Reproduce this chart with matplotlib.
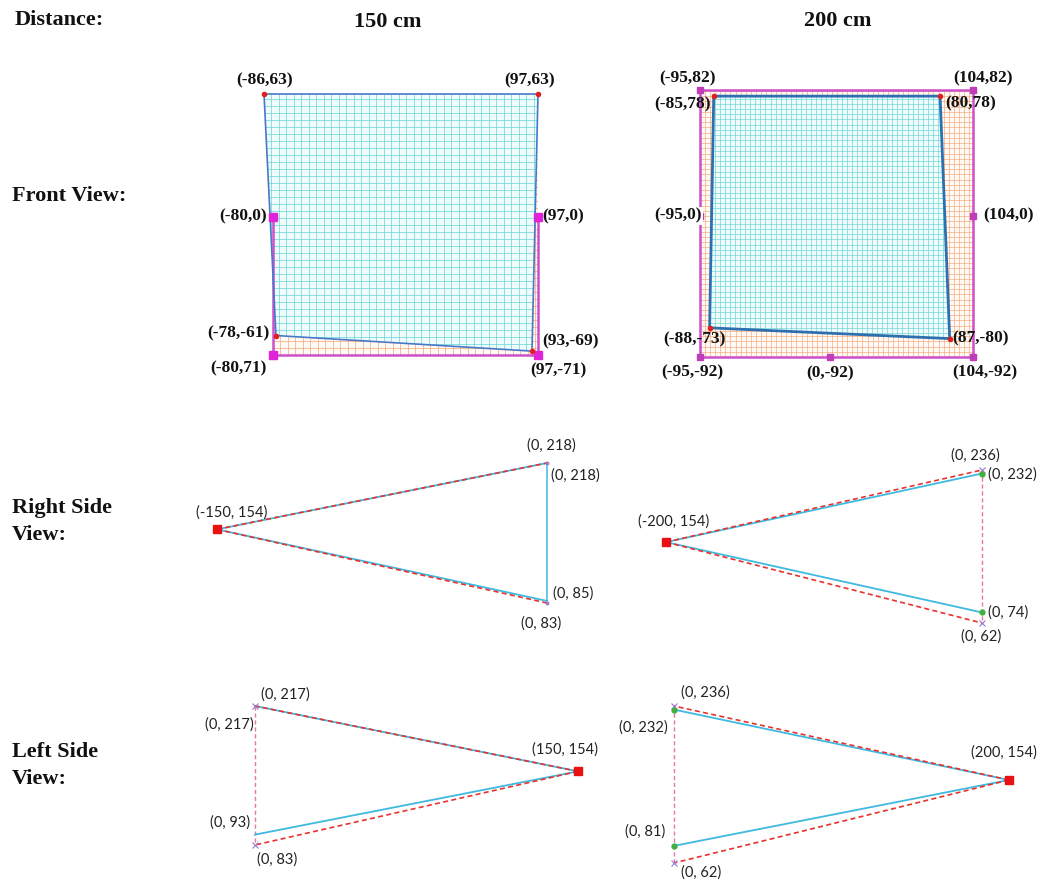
import matplotlib
matplotlib.use('Agg')
import matplotlib.pyplot as plt
from matplotlib.patches import Polygon
import numpy as np

# ---------------- data ----------------
distances = ['150 cm', '200 cm']
row_titles = ['Distance:', 'Front View:', 'Right Side\nView:', 'Left Side\nView:']

# front view, 150 cm : measured quadrilateral and reference frame
f150_quad_x = [-86, 97, 93, -78]
f150_quad_y = [63, 63, -69, -61]
f150_quad_labels = ['(-86,63)', '(97,63)', '(93,-69)', '(-78,-61)']
f150_frame_x = [-80, -80, 97, 97]
f150_frame_y = [0, -71, -71, 0]
f150_frame_labels = ['(-80,0)', '(-80,71)', '(97,-71)', '(97,0)']

# front view, 200 cm
f200_quad_x = [-85, 80, 87, -88]
f200_quad_y = [78, 78, -80, -73]
f200_quad_labels = ['(-85,78)', '(80,78)', '(87,-80)', '(-88,-73)']
f200_frame_x = [-95, 104, 104, 104, 0, -95, -95]
f200_frame_y = [82, 82, 0, -92, -92, -92, 0]
f200_frame_labels = ['(-95,82)', '(104,82)', '(104,0)', '(104,-92)', '(0,-92)', '(-95,-92)', '(-95,0)']

# side views: apex (x, y), theoretical top/bottom y, measured top/bottom y (at x = 0)
r150_apex = (-150, 154); r150_theory = [218, 83]; r150_meas = [218, 85]
r200_apex = (-200, 154); r200_theory = [236, 62]; r200_meas = [232, 74]
l150_apex = (150, 154);  l150_theory = [217, 83]; l150_meas = [217, 93]
l200_apex = (200, 154);  l200_theory = [236, 62]; l200_meas = [232, 81]

# ---------------- style ----------------
W, H = 1042, 883
fig = plt.figure(figsize=(W / 100, H / 100), dpi=100)
SERIF = 'Liberation Serif'
SANS = 'Lato'
CYAN_GRID = '#6fd8d8'
ORANGE_GRID = '#f4ae80'
MAGENTA = '#cf4fc9'
MAG_MARK = '#e022d8'
LINE_CYAN = '#3fb9df'
RED = '#e8322e'
PINK = '#e47a9c'


def place(xlim, px, ylim, py):
    ax = fig.add_axes([px[0] / W, 1 - py[0] / H, (px[1] - px[0]) / W, (py[0] - py[1]) / H])
    ax.set_xlim(*xlim)
    ax.set_ylim(*ylim)
    ax.axis('off')
    return ax


def grid(ax, px, py, dx, dy, color, lw, z, fill):
    poly = Polygon(np.column_stack([px, py]), closed=True, facecolor=fill,
                   edgecolor='none', zorder=z, clip_on=False)
    ax.add_patch(poly)
    x0, x1, y0, y1 = min(px), max(px), min(py), max(py)
    v = ax.vlines(np.arange(x0, x1 + 0.01, dx), y0, y1, colors=color, lw=lw, zorder=z + 0.1)
    h = ax.hlines(np.arange(y0, y1 + 0.01, dy), x0, x1, colors=color, lw=lw, zorder=z + 0.1)
    for c in (v, h):
        c.set_clip_path(poly)


def lab(ax, x, y, text, off, ha='center', family=SERIF, weight='bold', size=12.5,
        color='#111111', box=False):
    kw = {}
    if box:
        kw['bbox'] = dict(boxstyle='square,pad=0.05', fc='white', ec='none')
    ax.annotate(text, (x, y), xytext=off, textcoords='offset pixels', ha=ha, va='center',
                family=family, weight=weight, fontsize=size, color=color,
                annotation_clip=False, zorder=10, **kw)


# ---------------- row / column titles ----------------
tkw = dict(family=SERIF, weight='bold', fontsize=16, color='#111111', va='center')
fig.text(15 / W, 1 - 20 / H, row_titles[0], ha='left', **tkw)
fig.text(388 / W, 1 - 22 / H, distances[0], ha='center', **tkw)
fig.text(838 / W, 1 - 21 / H, distances[1], ha='center', **tkw)
fig.text(12 / W, 1 - 196 / H, row_titles[1], ha='left', **tkw)
for t, y0 in ((row_titles[2], 508), (row_titles[3], 752)):
    l1, l2 = t.split('\n')
    fig.text(12 / W, 1 - y0 / H, l1, ha='left', **tkw)
    fig.text(12 / W, 1 - (y0 + 27) / H, l2, ha='left', **tkw)

# ---------------- front view 150 cm ----------------
ax = place((min(f150_quad_x + f150_frame_x), max(f150_quad_x + f150_frame_x)), (264, 538),
           (min(f150_quad_y + f150_frame_y), max(f150_quad_y + f150_frame_y)), (355, 94))
fx0, fx1 = min(f150_frame_x), max(f150_frame_x)
fy0, fy1 = min(f150_frame_y), max(f150_quad_y)
grid(ax, [fx0, fx1, fx1, fx0], [fy0, fy0, fy1, fy1], 5, 3.6, ORANGE_GRID, 0.55, 1, '#fffaf6')
grid(ax, f150_quad_x, f150_quad_y, 5, 3.6, CYAN_GRID, 0.55, 2, '#f0fcfc')
ax.plot(f150_quad_x + f150_quad_x[:1], f150_quad_y + f150_quad_y[:1], color='#4a78c8',
        lw=1.2, zorder=4, clip_on=False)
ax.plot(f150_frame_x, f150_frame_y, color=MAGENTA, lw=1.8, zorder=3, clip_on=False)
ax.plot(f150_frame_x, f150_frame_y, 's', color=MAG_MARK, ms=6, zorder=5, clip_on=False)
ax.plot(f150_quad_x, f150_quad_y, 'o', color='#e02020', ms=3, zorder=6, clip_on=False)
f150_quad_off = [((1, 14), 'center'), ((-8, 14), 'center'), ((10, 10), 'left'), ((-6, 2), 'right')]
f150_frame_off = [((-6, 0), 'right'), ((-6, -13), 'right'), ((-8, -15), 'left'), ((4, 0), 'left')]
for x, y, t, (o, ha) in zip(f150_quad_x, f150_quad_y, f150_quad_labels, f150_quad_off):
    lab(ax, x, y, t, o, ha)
for x, y, t, (o, ha) in zip(f150_frame_x, f150_frame_y, f150_frame_labels, f150_frame_off):
    lab(ax, x, y, t, o, ha)

# ---------------- front view 200 cm ----------------
ax = place((min(f200_frame_x), max(f200_frame_x)), (700, 973),
           (min(f200_frame_y), max(f200_frame_y)), (357, 90))
gx0, gx1 = min(f200_frame_x), max(f200_frame_x)
gy0, gy1 = min(f200_frame_y), max(f200_frame_y)
grid(ax, [gx0, gx1, gx1, gx0], [gy0, gy0, gy1, gy1], 3.7, 3.4, ORANGE_GRID, 0.5, 1, '#fffaf6')
grid(ax, f200_quad_x, f200_quad_y, 3.7, 3.4, CYAN_GRID, 0.5, 2, '#f0fcfc')
ax.plot([gx0, gx1, gx1, gx0, gx0], [gy0, gy0, gy1, gy1, gy0], color=MAGENTA, lw=1.8,
        zorder=3, clip_on=False)
ax.plot(f200_quad_x + f200_quad_x[:1], f200_quad_y + f200_quad_y[:1], color='#2e6fb0',
        lw=2.0, zorder=4, clip_on=False)
ax.plot(f200_frame_x, f200_frame_y, 's', color='#c03cb8', ms=4.5, zorder=5, clip_on=False)
ax.plot(f200_quad_x, f200_quad_y, 'o', color='#e02020', ms=3, zorder=6, clip_on=False)
f200_quad_off = [((-3, -8), 'right'), ((5, -7), 'left'), ((3, 0), 'left'), ((-15, -12), 'center')]
f200_frame_off = [((-13, 12), 'center'), ((10, 12), 'center'), ((10, 0), 'left'),
                  ((12, -15), 'center'), ((0, -16), 'center'), ((-8, -15), 'center'),
                  ((2, 0), 'right')]
for x, y, t, (o, ha) in zip(f200_quad_x, f200_quad_y, f200_quad_labels, f200_quad_off):
    lab(ax, x, y, t, o, ha)
for x, y, t, (o, ha) in zip(f200_frame_x, f200_frame_y, f200_frame_labels, f200_frame_off):
    lab(ax, x, y, t, o, ha, box=(t == '(-95,0)'))


# ---------------- side views ----------------
def side(apex, theory, meas, px, py, offs, vert_cyan, mark_meas, mark_theory):
    ax_, ay = apex
    ys = theory + meas + [ay]
    xlim = (min(ax_, 0), max(ax_, 0))
    a = place(xlim, px, (min(ys), max(ys)), py)
    lkw = dict(zorder=3, clip_on=False)
    # measured (cyan, solid)
    a.plot([ax_, 0], [ay, meas[0]], color=LINE_CYAN, lw=1.3, **lkw)
    a.plot([ax_, 0], [ay, meas[1]], color=LINE_CYAN, lw=1.3, **lkw)
    if vert_cyan:
        a.plot([0, 0], meas, color=LINE_CYAN, lw=1.1, **lkw)
    else:
        a.plot([0, 0], theory, color=PINK, lw=1.0, ls=(0, (3, 2)), zorder=2, clip_on=False)
    # theoretical (red, dashed)
    a.plot([ax_, 0], [ay, theory[0]], color=RED, lw=1.2, ls=(0, (3, 2)), zorder=4, clip_on=False)
    a.plot([ax_, 0], [ay, theory[1]], color=RED, lw=1.2, ls=(0, (3, 2)), zorder=4, clip_on=False)
    a.plot([ax_], [ay], 's', color='#e81010', ms=5.5, zorder=6, clip_on=False)
    if mark_meas:
        a.plot([0, 0], meas, 'o', color='#40b040', ms=3.5, zorder=6, clip_on=False)
    a.plot([0, 0], theory, mark_theory, color='#9a7ad0', ms=4, mew=0.8, zorder=5, clip_on=False)
    texts = [(ax_, ay), (0, theory[0]), (0, meas[0]), (0, meas[1]), (0, theory[1])]
    for (x, y), (o, ha) in zip(texts, offs):
        lab(a, x, y, f'({x}, {y})', o, ha, family=SANS, weight='normal', size=10.5,
            color='#222222')


side(r150_apex, r150_theory, r150_meas, (217, 547), (603, 463),
     [((15, 17), 'center'), ((4, 17), 'center'), ((4, -13), 'left'), ((6, 7), 'left'),
      ((-6, -21), 'center')], True, False, '.')
side(r200_apex, r200_theory, r200_meas, (666, 982), (623, 470),
     [((8, 21), 'center'), ((-7, 14), 'center'), ((6, -1), 'left'), ((6, 0), 'left'),
      ((-1, -14), 'center')], False, True, 'x')
side(l150_apex, l150_theory, l150_meas, (255, 578), (845, 706),
     [((-13, 22), 'center'), ((30, 11), 'center'), ((-1, -19), 'right'), ((-5, 12), 'right'),
      ((22, -15), 'center')], False, False, 'x')
side(l200_apex, l200_theory, l200_meas, (674, 1009), (863, 706),
     [((-5, 27), 'center'), ((31, 13), 'center'), ((-6, -18), 'right'), ((-9, 14), 'right'),
      ((27, -10), 'center')], False, True, 'x')

fig.savefig('out.png', dpi=100)
